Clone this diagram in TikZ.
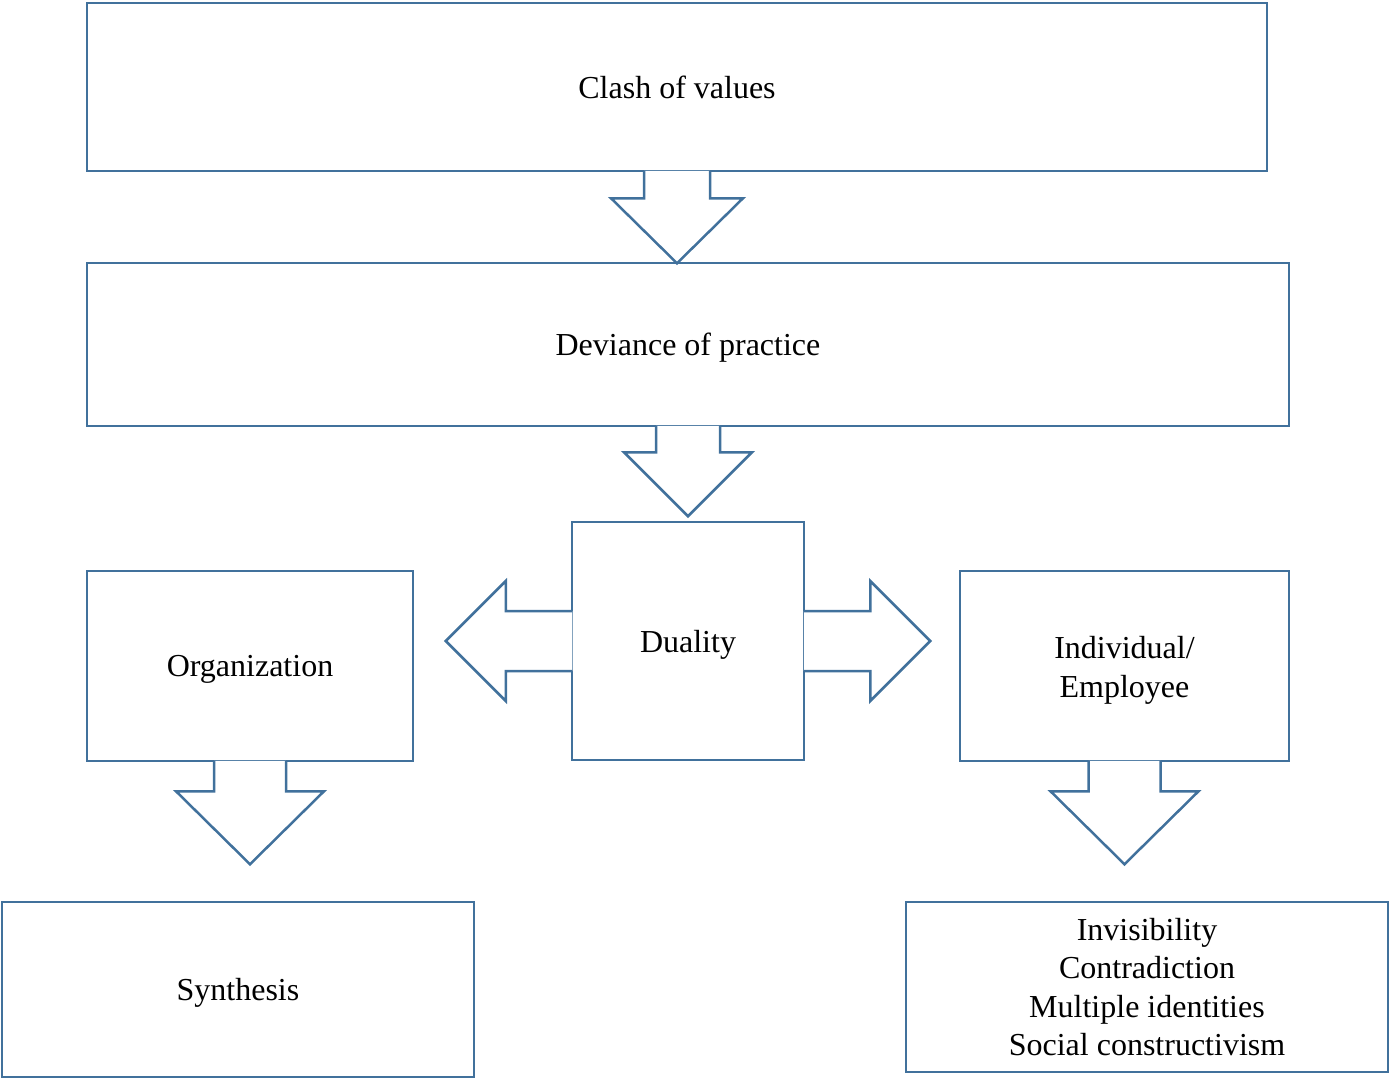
\documentclass[tikz,border=0pt]{standalone}
\usepackage{fontspec}
\setmainfont{Liberation Serif}
\usetikzlibrary{calc}
\definecolor{boxline}{HTML}{41719C}

\begin{document}
\begin{tikzpicture}[
  x=0.5pt, y=-0.5pt,
  box/.style={rectangle, draw=boxline, line width=1.25pt, fill=white, inner sep=0pt, align=center, font=\fontsize{16}{19.25}\selectfont},
  oneline/.style={box, text depth=0pt},
  blockarrow/.style={draw=boxline, line width=1.25pt, fill=white, line join=miter}
]
\useasboundingbox (0,0) rectangle (1389,1078);

\node[oneline, minimum width=590pt, minimum height=84pt] (clash) at (677,87) {Clash of values};
\node[oneline, minimum width=601pt, minimum height=81.5pt] (deviance) at (688,344.5) {Deviance of practice};
\node[oneline, minimum width=116pt, minimum height=119pt] (duality) at (688,641) {Duality};
\node[oneline, minimum width=163pt, minimum height=95pt] (org) at (250,666) {Organization};
\node[box, minimum width=164.5pt, minimum height=95pt] (indiv) at (1124.5,666) {\rule{0pt}{15.5pt}Individual/\\Employee};
\node[oneline, minimum width=236pt, minimum height=87.5pt] (synth) at (238,989.5) {Synthesis};
\node[box, minimum width=241pt, minimum height=85pt] (traits) at (1147,987) {Invisibility\\Contradiction\\Multiple identities\\Social constructivism};

% block arrows going down
\draw[blockarrow] ($(clash.south)+(-33,-1.5)$) -- ++(0,27.5) -- ++(-33,0) -- ($(clash.south)+(0,91)$) -- ($(clash.south)+(66,26)$) -- ++(-33,0) -- ++(0,-27.5);
\draw[blockarrow] ($(deviance.south)+(-32,-1.5)$) -- ++(0,26.5) -- ++(-32,0) -- ($(deviance.south)+(0,89)$) -- ($(deviance.south)+(64,25)$) -- ++(-32,0) -- ++(0,-26.5);
\draw[blockarrow] ($(org.south)+(-36,-1.5)$) -- ++(0,30.5) -- ++(-38,0) -- ($(org.south)+(0,102)$) -- ($(org.south)+(74,29)$) -- ++(-38,0) -- ++(0,-30.5);
\draw[blockarrow] ($(indiv.south)+(-36,-1.5)$) -- ++(0,30.5) -- ++(-38,0) -- ($(indiv.south)+(0,102)$) -- ($(indiv.south)+(74,29)$) -- ++(-38,0) -- ++(0,-30.5);

% duality arrows to both sides
\draw[blockarrow] ($(duality.west)+(1.5,-30)$) -- ++(-66.5,0) -- ++(0,-30) -- ($(duality.west)+(-125,0)$) -- ($(duality.west)+(-65,60)$) -- ++(0,-30) -- ++(66.5,0);
\draw[blockarrow] ($(duality.east)+(-1.5,-30)$) -- ++(66.5,0) -- ++(0,-30) -- ($(duality.east)+(125,0)$) -- ($(duality.east)+(65,60)$) -- ++(0,-30) -- ++(-66.5,0);
\end{tikzpicture}
\end{document}
